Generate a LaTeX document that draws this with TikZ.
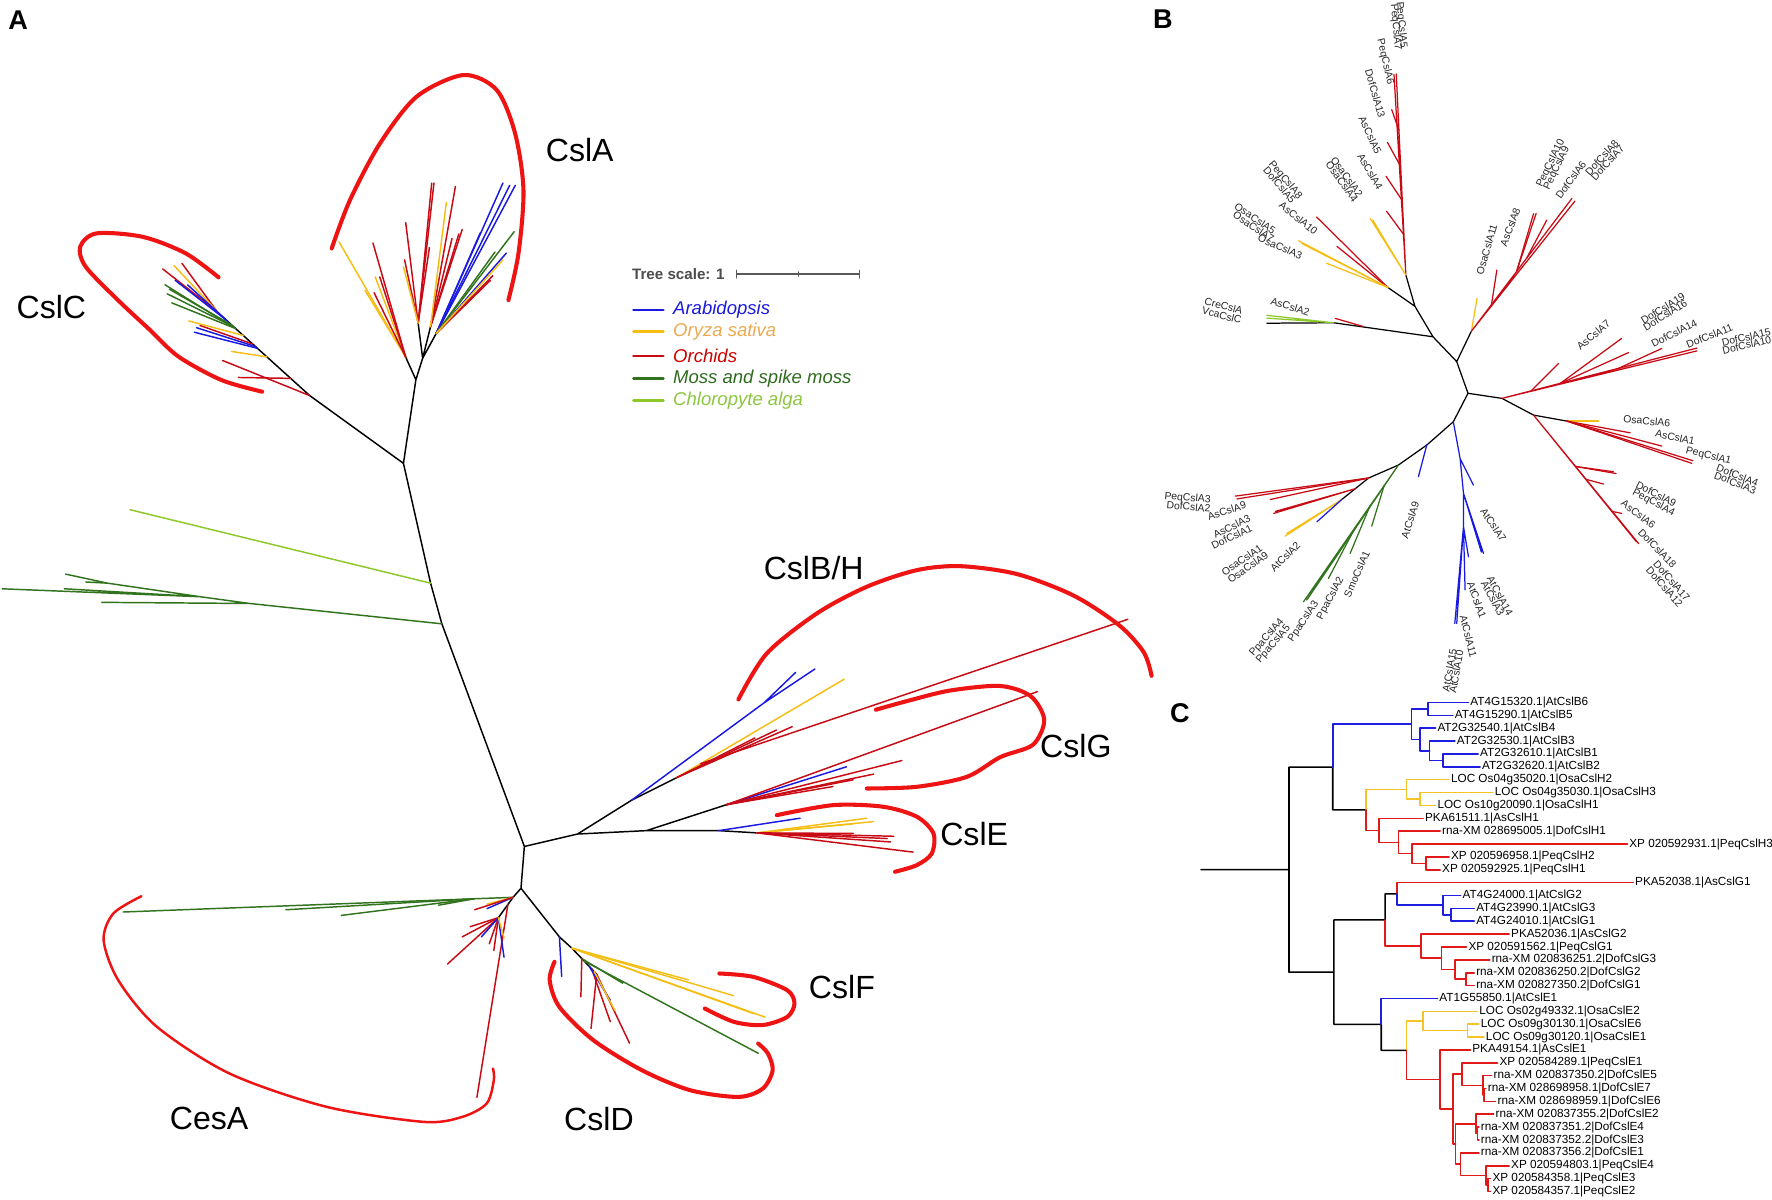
\documentclass[tikz,border=0pt]{standalone}
\usepackage{fontspec}
\setmainfont{Liberation Sans}
\usetikzlibrary{calc}
\definecolor{atblue}{RGB}{25,25,225}
\definecolor{osayel}{RGB}{245,190,20}
\definecolor{orchred}{RGB}{200,10,20}
\definecolor{mossgr}{RGB}{50,115,30}
\definecolor{algagr}{RGB}{140,200,40}
\definecolor{arcred}{RGB}{238,20,20}
\definecolor{legblue}{RGB}{26,26,220}
\definecolor{legyel}{RGB}{234,170,80}
\definecolor{legred}{RGB}{204,0,0}
\definecolor{leggr}{RGB}{46,107,30}
\definecolor{legalga}{RGB}{140,198,62}
\definecolor{cblue}{RGB}{30,30,225}
\definecolor{cyel}{RGB}{245,195,40}
\definecolor{cred}{RGB}{225,25,25}
\begin{document}
\begin{tikzpicture}[x=0.5pt, y=-0.5pt, line cap=round, line join=round]
\tikzset{
  br/.style={line width=0.65pt},
  brb/.style={line width=0.55pt},
  brc/.style={line width=0.7pt},
  cladearc/.style={arcred, line width=1.8pt},
  cladename/.style={font=\fontsize{14.2}{16}\selectfont, inner sep=0pt},
  panel/.style={font=\fontsize{12}{14}\selectfont\bfseries, inner sep=0pt},
  leafB/.style={font=\fontsize{4.6}{5}\selectfont, text=black!85, inner sep=0pt},
  leafC/.style={font=\fontsize{5.2}{6}\selectfont, anchor=west, inner sep=0.7pt},
  legline/.style={line width=1.2pt},
  legtext/.style={font=\fontsize{8.2}{9}\selectfont\itshape, anchor=west, inner sep=0pt}
}
\useasboundingbox (0,0) rectangle (1568,1061);

% ---------- panel A ----------
\node[panel] (pA) at (16,18) {A};
\coordinate (jA) at (357,410);
\coordinate (aA) at (368,336);
\coordinate (aL) at (359,316);
\coordinate (aS) at (374,317);
\coordinate (aM) at (370,286);
\coordinate (aN) at (381,289);
\coordinate (aR) at (386,295);
\coordinate (cC1) at (274,350);
\coordinate (cC2) at (190,274);
\coordinate (gAl) at (381,516);
\coordinate (gMo) at (391,552);
\coordinate (m1) at (221,534);
\coordinate (m2) at (177,528);
\coordinate (m3) at (95,516);
\coordinate (c0) at (464,749);
\coordinate (c1) at (461,786);
\coordinate (eA) at (454,794);
\coordinate (eB) at (441,812);
\coordinate (dA) at (495,829);
\coordinate (dB) at (506,839);
\coordinate (dC) at (528,862);
\coordinate (nBH) at (511,738);
\coordinate (nBb) at (559,708);
\coordinate (nBy) at (599,688);
\coordinate (nGE) at (572,735);
\coordinate (nG) at (643,712);
\coordinate (nE1) at (636,735);
\coordinate (nE2) at (670,737);

\draw[br] (cC2) -- (cC1) -- (jA) -- (aA) -- (aL) (aA) -- (aS) -- (aM) (aS) -- (aN) (aS) -- (aR)
  (jA) -- (gAl) -- (gMo) -- (c0) -- (c1) -- (eA) -- (eB)
  (c1) -- (dA) -- (dB) -- (dC)
  (c0) -- (nBH) -- (nBb) -- (nBy)
  (nBH) -- (nGE) -- (nG)
  (nGE) -- (nE1) -- (nE2);

% CslA
\foreach \x/\y in {300/214,323/257,332/245} \draw[br,osayel] (aL) -- (\x,\y);
\foreach \x/\y in {330/215,336/245,331/259} \draw[br,orchred] (aL) -- (\x,\y);
\foreach \x/\y in {359/197,358/230,380/219,382/162,384/162} \draw[br,orchred] (aM) -- (\x,\y);
\draw[br,osayel] (aM) -- (357,236);
\foreach \x/\y in {403/165,409/203,400/211,406/207} \draw[br,orchred] (aN) -- (\x,\y);
\draw[br,osayel] (aN) -- (395,179);
\foreach \x/\y in {445/162,451/164,456/164,425/206,448/224} \draw[br,atblue] (aR) -- (\x,\y);
\foreach \x/\y in {455/205,438/223} \draw[br,mossgr] (aR) -- (\x,\y);
\foreach \x/\y in {436/244,434/248} \draw[br,orchred] (aR) -- (\x,\y);
\draw[br,osayel] (aR) -- (445,230);

% CslC
\foreach \t/\x/\y in {0/197/319,0.2/211/334,0.6/177/288,1/144/238,0.97/161/233} \draw[br,orchred] ($(cC1)!\t!(cC2)$) -- (\x,\y);
\foreach \t/\x/\y in {0.45/205/311,0.7/167/284,0.95/154/235} \draw[br,osayel] ($(cC1)!\t!(cC2)$) -- (\x,\y);
\foreach \t/\x/\y in {0.55/172/294,0.57/174/290,0.85/166/252,0.88/155/248} \draw[br,atblue] ($(cC1)!\t!(cC2)$) -- (\x,\y);
\foreach \t/\x/\y in {0.78/146/252,0.78/152/268,0.8/148/260,0.82/150/256} \draw[br,mossgr] ($(cC1)!\t!(cC2)$) -- (\x,\y);

% alga and moss
\draw[br,algagr] (gAl) -- (115,451);
\draw[br,mossgr] (gMo) -- (m1) -- (90,533) (m1) -- (m2) -- (2,521) (m2) -- (57,521) (m2) -- (m3) -- (58,508) (m3) -- (76,515);

% CesA
\draw[br,mossgr] (eA) -- (109,807);
\foreach \x/\y in {253/805,302/810,388/801} \draw[br,mossgr] ($(eA)!0.1!(109,807)$) -- (\x,\y);
\draw[br,orchred] ($(eA)!0.35!(eB)$) -- (422,971);
\draw[br,atblue] (eA) -- (431,804);
\draw[br,osayel] (eA) -- (431,800);
\draw[br,orchred] (eA) -- (420,805);
\foreach \x/\y in {396/853,409/829,433/835,437/841,416/820} \draw[br,orchred] (eB) -- (\x,\y);
\foreach \x/\y in {426/829,446/847} \draw[br,atblue] (eB) -- (\x,\y);
\draw[br,osayel] (eB) -- (446,830);

% CslD and CslF
\draw[br,atblue] (dA) -- (497,864);
\foreach \x/\y in {649/881,677/900,667/897,609/867} \draw[br,osayel] (dB) -- (\x,\y);
\draw[br,mossgr] ($(dB)!0.5!(dC)$) -- (671,932);
\draw[br,mossgr] ($(dB)!0.4!(dC)$) -- (551,870);
\foreach \t/\x/\y in {1/523/910,1/557/923,0.8/540/904,0.4/514/882} \draw[br,orchred] ($(dB)!\t!(dC)$) -- (\x,\y);
\draw[br,atblue] ($(dB)!0.7!(dC)$) -- (540,885);
\draw[br,osayel] ($(dB)!0.9!(dC)$) -- (544,894);

% CslB/H
\draw[br,atblue] (nBb) -- (676,622) -- (704,595) (676,622) -- (721,592);
\draw[br,osayel] (nBy) -- (747,601);
\foreach \x/\y in {701/643,668/653,687/646} \draw[br,orchred] (nBy) -- (\x,\y);
\draw[br,orchred] ($(nBy)!0.14!(747,601)$) -- (998,548);

% CslG
\draw[br,atblue] (nG) -- (749,678.5);
\foreach \x/\y in {798/673,773/685,755/690,737/696,918/612} \draw[br,orchred] (nG) -- (\x,\y);

% CslE
\draw[br,atblue] (nE1) -- (708,724);
\foreach \x/\y in {773/727,767/724,755/729} \draw[br,osayel] (nE2) -- (\x,\y);
\foreach \x/\y in {791/740,785/742,755/737.5,808/754,788/745} \draw[br,orchred] (nE2) -- (\x,\y);

% clade arcs
\draw[cladearc] plot[smooth] coordinates {(293.5,219.8) (309.7,177) (336.3,126.8) (368.7,85.5) (410,66.4) (439.5,79.6) (455.8,118) (463.2,168.1) (458.8,224.2) (449.9,265.5)};
\draw[cladearc] plot[smooth] coordinates {(193.4,245.4) (164,224) (126,209.5) (85.3,206.5) (71,218.3) (75.8,236) (104.3,265.5) (132.7,292) (158,315.6) (196,336.3) (232,346.6)};
\draw[cladearc] plot[smooth] coordinates {(653.4,618.9) (678.5,578.2) (722.8,542.8) (767,519.2) (811.3,504.5) (850,501) (900,508) (950,527) (990,553) (1012,577) (1019,598)};
\draw[cladearc] plot[smooth] coordinates {(775,628) (803.9,620) (840.8,611) (885,607) (912,616) (924,637) (914,659) (885,670) (855.5,687.4) (811.3,696.2) (767,697.7)};
\draw[cladearc] plot[smooth] coordinates {(687.4,721.3) (737.5,712.4) (781.8,713.9) (811.3,722.7) (826,737.5) (824.5,755.2) (811.3,765.5) (792,771.4)};
\draw[cladearc] plot[smooth] coordinates {(636.5,861.4) (666.6,864.4) (696.6,876.2) (703,888) (696.6,899.8) (675,907) (649.4,904.2) (623.7,892.4)};
\draw[cladearc] plot[smooth] coordinates {(490.7,851) (486.4,867.3) (495,891) (525,920.4) (568,947) (610.8,964.7) (653.7,970.6) (675,963.2) (683.7,947) (679.4,932) (670.9,923.4)};
\draw[cladearc, line width=1.1pt] plot[smooth] coordinates {(125.2,793) (100.3,808.3) (91.7,831.9) (104.6,867.3) (138.9,908.6) (203.3,950) (289,979.4) (374.9,992.7) (409,988.3) (430.6,976.5) (437,955.8) (436.2,945.5)};

\node[cladename] (lCslA) at (513,133) {CslA};
\node[cladename] (lCslC) at (45.5,272) {CslC};
\node[cladename] (lCslBH) at (720,503) {CslB/H};
\node[cladename] (lCslG) at (952,660) {CslG};
\node[cladename] (lCslE) at (862,738) {CslE};
\node[cladename] (lCslF) at (745,873) {CslF};
\node[cladename] (lCesA) at (185,990) {CesA};
\node[cladename] (lCslD) at (530,990) {CslD};

% legend
\node[anchor=west, font=\fontsize{6.7}{8}\selectfont\bfseries, text=black!70, inner sep=0pt] (tscale) at (559,242.6) {Tree scale: 1};
\draw[black!65, line width=0.5pt] (652,242.5) -- (760.5,242.5) (652,239) -- (652,246) (706.5,240.5) -- (706.5,244.5) (760.5,239) -- (760.5,246);
\foreach \y/\c/\tc/\t [count=\i] in {274.3/atblue/legblue/Arabidopsis, 293.5/osayel/legyel/Oryza sativa, 315/orchred/legred/Orchids, 334.8/mossgr/leggr/Moss and spike moss, 354.5/algagr/legalga/Chloropyte alga}{
  \draw[legline,\c] (560.5,\y) -- (587,\y);
  \node[legtext, text=\tc] (leg\i) at (595.3,\y) {\t};
}

% ---------- panel B ----------
\node[panel] (pB) at (1029,17) {B};
\coordinate (B0) at (1299,348);
\coordinate (B1) at (1289,320);
\coordinate (B2) at (1268,298);
\coordinate (B3) at (1302,293);
\coordinate (B4) at (1252,271);
\coordinate (B5) at (1180,285.6);
\coordinate (B6) at (1244,243.4);
\coordinate (B7) at (1228,254.3);
\coordinate (B8) at (1329,352.5);
\coordinate (B9) at (1357,367.3);
\coordinate (B9a) at (1386.4,372.6);
\coordinate (B10) at (1286,373.2);
\coordinate (B10a) at (1262.5,393.8);
\coordinate (B11) at (1237.4,411.5);
\coordinate (B12) at (1211,423);
\coordinate (B13) at (1187.4,441.9);
\coordinate (B6t) at (1235.5,65.5);
\coordinate (B3t) at (1391,175.5);
\coordinate (B8t) at (1501.5,308);
\coordinate (B9t) at (1450,481);
\coordinate (B11t) at (1153.4,532.5);
\coordinate (Bat) at (1292,405.6);
\coordinate (Bau) at (1295,436.6);
\coordinate (Bav) at (1295,466);

\draw[brb] (B0) -- (B1) -- (B2) -- (B4) -- (B6) (B4) -- (B7) (B2) -- (B5) -- (1121,286) (B1) -- (B3)
  (B0) -- (B8) -- (B9) -- (B9a) (B0) -- (B10) -- (B10a) -- (B11) -- (B12) -- (B13);
\draw[brb,algagr] (B5) -- (1121,279) (B5) -- (1121,281.5);
\draw[brb,orchred] (1206.6,289) -- (1181.5,281.7);
\draw[brb,orchred] (B6) -- (B6t) (B6) -- (1233.5,66);
\foreach \t/\x/\y in {0.2/1227/187,0.37/1226.5/156,0.54/1227.7/126,0.72/1231.5/97} \draw[brb,orchred] ($(B6)!\t!(B6t)$) -- (\x,\y);
\draw[brb,osayel] (B6) -- (1212.4,193.2) (B6) -- (1214.7,194.7);
\foreach \x/\y in {1165/192,1183/218} \draw[brb,orchred] (B7) -- (\x,\y);
\foreach \x/\y in {1149/213,1152/215.5,1174/233} \draw[brb,osayel] (B7) -- (\x,\y);
\draw[brb,osayel] (B3) -- (1307,264);
\draw[brb,orchred] (B3) -- (B3t) (B3) -- (1393.5,178);
\foreach \t/\x/\y in {0.2/1324.5/239,0.45/1357/189,0.45/1359.3/188.8,0.55/1368.7/194.7} \draw[brb,orchred] ($(B3)!\t!(B3t)$) -- (\x,\y);
\draw[brb,orchred] (B8) -- (B8t) (B8) -- (1501.5,310.5);
\foreach \t/\x/\y in {0.3/1435/299.4,0.3/1441/312,0.6/1470.5/308.3,0.15/1379/321.6} \draw[brb,orchred] ($(B8)!\t!(B8t)$) -- (\x,\y);
\draw[brb,osayel] (B9a) -- (1414.4,372.6);
\foreach \x/\y in {1442.5/383,1470.5/394.7,1497/410,1498/407.7} \draw[brb,orchred] (B9a) -- (\x,\y);
\draw[brb,orchred] (B9) -- (B9t) (B9) -- (1448,479.4);
\foreach \t/\x/\y in {0.4/1427.7/417.4,0.4/1430/419,0.5/1418.9/428.3,0.75/1435/454.3} \draw[brb,orchred] ($(B9)!\t!(B9t)$) -- (\x,\y);
\draw[brb,atblue] (B10) -- (Bat) -- (1303.8,429.2) (Bat) -- (Bau) -- (1312.7,489.7) (Bau) -- (1310.8,488.5)
  (Bau) -- (Bav) -- (1299.4,492.6) (Bav) -- (1296.4,522) (Bav) -- (1289,551.7) (Bav) -- (1287.3,551.7);
\draw[brb,atblue] (B10a) -- (1255.1,421.8);
\draw[brb,mossgr] (B11) -- (B11t) (B11) -- (1156.3,531);
\foreach \t/\x/\y in {0.15/1213.8/465.5,0.3/1194.7/489.7,0.45/1175.5/511.8} \draw[brb,mossgr] ($(B11)!\t!(B11t)$) -- (\x,\y);
\foreach \x/\y in {1093/439,1094.5/441.5,1124/442} \draw[brb,orchred] (B12) -- (\x,\y);
\draw[brb,orchred] ($(B12)!0.5!(B13)$) -- (1127,454.3) ($(B12)!0.5!(B13)$) -- (1128.6,452.5);
\draw[brb,osayel] (B13) -- (1137.2,474.4) (B13) -- (1138.7,472);
\draw[brb,atblue] (B13) -- (1165.3,461.7);

\foreach \x/\y/\r/\t [count=\i] in {
  1082.7/270.8/-15/CreCslA, 1081.2/278.8/-15/VcaCslC, 1141.7/271.4/-17/AsCslA2,
  1132.8/218.3/-23/OsaCslA3, 1110.7/193.2/-34/OsaCslA5, 1109.2/200.6/-34/OsaCslA7,
  1149/193.2/-39/AsCslA10, 1137.2/159.3/-50/PeqCslA8, 1132.2/163.7/-50/DofCslA5,
  1191.8/156.4/-54/OsaCslA2, 1187.4/160.8/-54/OsaCslA4, 1212.5/151.9/-60/AsCslA4,
  1212.5/119.5/-65/AsCslA5, 1216.9/82.6/-74/DofCslA13, 1225.7/54.6/-77/PeqCslA6,
  1235/24/-85/PeqCslA7, 1240/22/-85/PeqCslA5,
  1315.6/220.7/74/OsaCslA11, 1336.3/201.2/69/AsCslA8, 1372.2/144.6/64/PeqCslA10,
  1377.6/149/64/PeqCslA9, 1390/159.3/54/DofCslA6, 1417.4/139.5/48/DofCslA8,
  1422.4/144/48/DofCslA7, 1410/296.5/40/AsCslA7, 1471.4/272.9/32/DofCslA19,
  1473.4/278.8/32/DofCslA16, 1481.4/295/27/DofCslA14, 1512.7/297.4/22/DofCslA11,
  1545.1/298.5/13/DofCslA15, 1545.7/305.3/13/DofCslA10,
  1457.2/372.6/-5/OsaCslA6, 1482.3/387/-12/AsCslA1, 1511.8/403.6/-14/PeqCslA1,
  1537.4/420.4/-22/DofCslA4, 1535.4/427.2/-22/DofCslA3, 1465.5/437.2/-28/DofCslA9,
  1463.1/444.9/-28/PeqCslA4, 1449.8/454.9/-38/AsCslA6, 1466.6/485.3/-46/DofCslA18,
  1479.3/513.9/-49/DofCslA17, 1472.8/519.2/-49/DofCslA12,
  1321.5/464.6/-56/AtCslA7, 1247.8/460.2/72/AtCslA9, 1327.4/527.5/-62/AtCslA14,
  1320.9/529.5/-62/AtCslA3, 1306.8/531/-70/AtCslA1, 1299.4/562.9/-76/AtCslA11,
  1282.6/593/80/AtCslA15, 1288.5/594.4/80/AtCslA10,
  1200.6/508/66/SmoCslA1, 1177.5/529.5/62/PpaCslA2, 1153.5/550.2/56/PpaCslA3,
  1121/564/49/PpaCslA4, 1126.9/570/49/PpaCslA5, 1098.9/495.6/35/OsaCslA1,
  1104.2/502.1/35/OsaCslA9, 1137.2/492.7/45/AtCslA2, 1090/466.1/26/AsCslA3,
  1090/475/26/DofCslA1, 1085.6/452/18/AsCslA9, 1050.8/441/-5/PeqCslA3,
  1051.7/448.4/-5/DofCslA2}
  \node[leafB, rotate=\r] (lb\i) at (\x,\y) {\t};

% ---------- panel C ----------
\node[panel] (pC) at (1044,631) {C};
\begin{scope}[shift={(1030.1,621.6)}, xscale=0.343, yscale=11.387]
\foreach \tx/\lab [count=\i from 0] in {785/AT4G15320.1|AtCslB6, 745/AT4G15290.1|AtCslB5,
  700/AT2G32540.1|AtCslB4, 750/AT2G32530.1|AtCslB3, 810/AT2G32610.1|AtCslB1,
  815/AT2G32620.1|AtCslB2, 735/LOC Os04g35020.1|OsaCslH2, 848/LOC Os04g35030.1|OsaCslH3,
  700/LOC Os10g20090.1|OsaCslH1, 668/PKA61511.1|AsCslH1, 712/rna-XM 028695005.1|DofCslH1,
  1195/XP 020592931.1|PeqCslH3, 735/XP 020596958.1|PeqCslH2, 712/XP 020592925.1|PeqCslH1,
  1210/PKA52038.1|AsCslG1, 765/AT4G24000.1|AtCslG2, 800/AT4G23990.1|AtCslG3,
  800/AT4G24010.1|AtCslG1, 890/PKA52036.1|AsCslG2, 780/XP 020591562.1|PeqCslG1,
  840/rna-XM 020836251.2|DofCslG3, 800/rna-XM 020836250.2|DofCslG2,
  800/rna-XM 020827350.2|DofCslG1, 705/AT1G55850.1|AtCslE1, 808/LOC Os02g49332.1|OsaCslE2,
  812/LOC Os09g30130.1|OsaCslE6, 825/LOC Os09g30120.1|OsaCslE1, 790/PKA49154.1|AsCslE1,
  860/XP 020584289.1|PeqCslE1, 845/rna-XM 020837350.2|DofCslE5,
  830/rna-XM 028698958.1|DofCslE7, 855/rna-XM 028698959.1|DofCslE6,
  850/rna-XM 020837355.2|DofCslE2, 812/rna-XM 020837351.2|DofCslE4,
  812/rna-XM 020837352.2|DofCslE3, 812/rna-XM 020837356.2|DofCslE1,
  890/XP 020594803.1|PeqCslE4, 842/XP 020584358.1|PeqCslE3, 842/XP 020584357.1|PeqCslE2}
  \node[leafC] (c\i) at (\tx,\i) {\lab};

\coordinate (cR) at (322,12.99);
\coordinate (cU) at (435,5.02);
\coordinate (cBb) at (638,1.69);
\coordinate (cB1) at (680,0.5);
\coordinate (cB2) at (660,2.875);
\coordinate (cB3) at (685,3.75);
\coordinate (cB4) at (720,4.5);
\coordinate (cHk) at (520,8.34);
\coordinate (cHy) at (625,6.75);
\coordinate (cHy2) at (660,7.5);
\coordinate (cHr) at (555,9.94);
\coordinate (cHr2) at (605,10.875);
\coordinate (cHr3) at (640,11.75);
\coordinate (cHr4) at (675,12.5);
\coordinate (cL) at (438,20.96);
\coordinate (cGk) at (570,16.9);
\coordinate (cGa) at (600,14.875);
\coordinate (cGb) at (720,15.75);
\coordinate (cGb2) at (740,16.5);
\coordinate (cGr) at (662,18.94);
\coordinate (cGr2) at (715,19.875);
\coordinate (cGr3) at (750,20.75);
\coordinate (cGr4) at (778,21.5);
\coordinate (cEk) at (560,25.01);
\coordinate (cEk2) at (625,27.03);
\coordinate (cEy) at (668,24.75);
\coordinate (cEy2) at (783,25.5);
\coordinate (cEr) at (712,29.3);
\coordinate (cEr2) at (745,31.6);
\coordinate (cEr3) at (768,28.875);
\coordinate (cEr4) at (822,29.75);
\coordinate (cEr5) at (825,30.5);
\coordinate (cEr6) at (752,34.31);
\coordinate (cEr7) at (805,32.75);
\coordinate (cEr8) at (808,33.5);
\coordinate (cEr9) at (765,35.875);
\coordinate (cEr10) at (830,36.75);
\coordinate (cEr11) at (835,37.5);

\draw[brc] (95,12.99) -- (cR) (cR) |- (cU) (cR) |- (cL) (cU) |- (cHk) (cL) |- (cGk) (cL) |- (cEk)
  (cEk) |- (cEk2) (cGk) |- (cGa);
\draw[brc,cblue] (cU) |- (cBb) (cBb) |- (cB1) (cBb) |- (cB2) (cB1) |- (c0.west) (cB1) |- (c1.west)
  (cB2) |- (c2.west) (cB2) |- (cB3) (cB3) |- (c3.west) (cB3) |- (cB4) (cB4) |- (c4.west) (cB4) |- (c5.west);
\draw[brc,cyel] (cHk) |- (cHy) (cHy) |- (c6.west) (cHy) |- (cHy2) (cHy2) |- (c7.west) (cHy2) |- (c8.west);
\draw[brc,cred] (cHk) |- (cHr) (cHr) |- (c9.west) (cHr) |- (cHr2) (cHr2) |- (c10.west) (cHr2) |- (cHr3)
  (cHr3) |- (c11.west) (cHr3) |- (cHr4) (cHr4) |- (c12.west) (cHr4) |- (c13.west);
\draw[brc,cred] (cGa) |- (c14.west);
\draw[brc,cblue] (cGa) |- (cGb) (cGb) |- (c15.west) (cGb) |- (cGb2) (cGb2) |- (c16.west) (cGb2) |- (c17.west);
\draw[brc,cred] (cGk) |- (cGr) (cGr) |- (c18.west) (cGr) |- (cGr2) (cGr2) |- (c19.west) (cGr2) |- (cGr3)
  (cGr3) |- (c20.west) (cGr3) |- (cGr4) (cGr4) |- (c21.west) (cGr4) |- (c22.west);
\draw[brc,cblue] (cEk) |- (c23.west);
\draw[brc,cyel] (cEk2) |- (cEy) (cEy) |- (c24.west) (cEy) |- (cEy2) (cEy2) |- (c25.west) (cEy2) |- (c26.west);
\draw[brc,cred] (cEk2) |- (cEr) (cEr) |- (c27.west) (cEr) |- (cEr2) (cEr2) |- (cEr3) (cEr3) |- (c28.west)
  (cEr3) |- (cEr4) (cEr4) |- (c29.west) (cEr4) |- (cEr5) (cEr5) |- (c30.west) (cEr5) |- (c31.west)
  (cEr2) |- (cEr6) (cEr6) |- (cEr7) (cEr7) |- (c32.west) (cEr7) |- (cEr8) (cEr8) |- (c33.west) (cEr8) |- (c34.west)
  (cEr6) |- (cEr9) (cEr9) |- (c35.west) (cEr9) |- (cEr10) (cEr10) |- (c36.west) (cEr10) |- (cEr11)
  (cEr11) |- (c37.west) (cEr11) |- (c38.west);
\end{scope}
\end{tikzpicture}
\end{document}
